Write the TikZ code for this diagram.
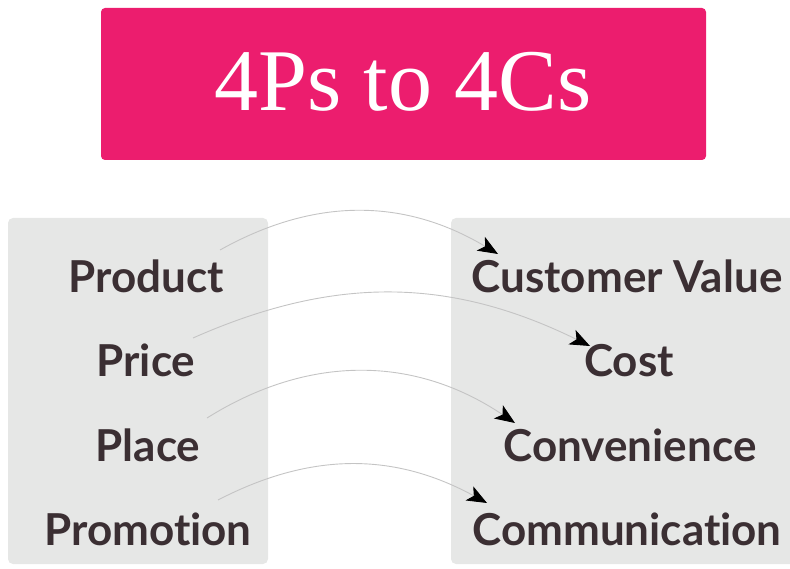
\documentclass[tikz,border=0pt]{standalone}
\usepackage{fontspec}
\setsansfont{Lato}[Ligatures=CommonOff]
\newfontfamily\bannerfont{Liberation Serif}
\usetikzlibrary{arrows.meta}
\definecolor{titlepink}{HTML}{EC1D6E}
\definecolor{panelgray}{HTML}{E6E7E6}
\definecolor{labeltext}{HTML}{3B2F33}
\definecolor{linkgray}{HTML}{C4C4C4}

\begin{document}
\begin{tikzpicture}[x=1pt,y=-1pt]
        \tikzstyle{panel}=[fill=panelgray,rounded corners=5pt]
        \tikzstyle{word}=[font=\sffamily\bfseries\fontsize{44}{44}\selectfont,text=labeltext,anchor=base,inner sep=0pt]
        \tikzstyle{link}=[draw=linkgray,line width=0.9pt,-{Stealth[length=20pt,width=16pt,inset=5pt,color=black]}]
        \useasboundingbox (0,0) rectangle (790,569);
        % title banner and the two grey panels
        \fill[titlepink,rounded corners=4pt] (101,8) rectangle (706,160);
        \fill[panel] (8,218) rectangle (268,564);
        \fill[panel] (451,218) rectangle (800,564);
        \node[font=\bannerfont\fontsize{88}{88}\selectfont,text=white,anchor=base,inner sep=0pt] (title) at (403,111) {4Ps to 4Cs};
        % the 4Ps
        \node[word] (product) at (146,293) {Product};
        \node[word] (price) at (146,377) {Price};
        \node[word] (place) at (148,461) {Place};
        \node[word] (promotion) at (148,545) {Promotion};
        % the 4Cs
        \node[word] (value) at (627,293) {Customer Value};
        \node[word] (cost) at (629,377) {Cost};
        \node[word] (convenience) at (630,461) {Convenience};
        \node[word] (communication) at (627,545) {Communication};
        % arrow ends
        \coordinate (from1) at (220,250); \coordinate (to1) at (498,254);
        \coordinate (from2) at (193,338); \coordinate (to2) at (590,346);
        \coordinate (from3) at (207,418); \coordinate (to3) at (515,423);
        \coordinate (from4) at (218,500); \coordinate (to4) at (487,503);
        \draw[link] (from1) to[bend left=30] (to1);
        \draw[link] (from2) to[bend left=25] (to2);
        \draw[link] (from3) to[bend left=33] (to3);
        \draw[link] (from4) to[bend left=28] (to4);
    \end{tikzpicture}
\end{document}
